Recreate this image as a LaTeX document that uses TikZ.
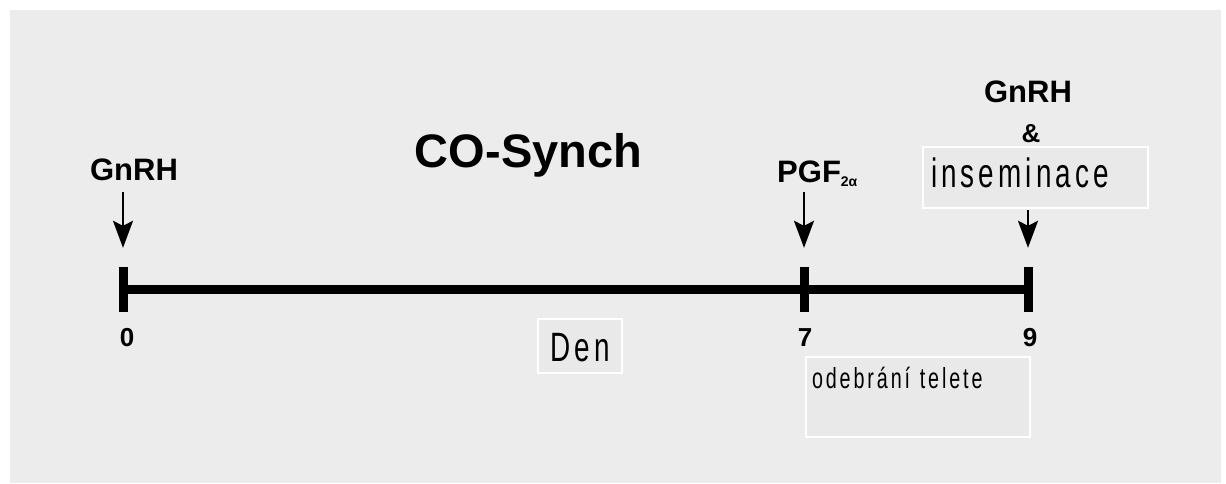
\documentclass[tikz,border=0pt]{standalone}
\usepackage{fontspec}
\setmainfont{Liberation Sans}
\newfontfamily\narrowfont[FakeStretch=0.68,LetterSpace=10]{Liberation Sans}
\usepackage{tikz}
\usetikzlibrary{arrows.meta,positioning}
\definecolor{panel}{HTML}{ECECEC}
\definecolor{boxfill}{HTML}{E9E9E9}

\begin{document}
\begin{tikzpicture}[x=1pt, y=-1pt,
    drugtext/.style={inner sep=0pt, anchor=base, font=\bfseries\fontsize{31}{31}\selectfont},
    daytext/.style={inner sep=0pt, anchor=base, font=\bfseries\fontsize{26}{26}\selectfont},
    daytick/.style={fill=black, inner sep=0pt, minimum width=9pt, minimum height=45pt},
    notebox/.style={draw=white, line width=2pt, fill=boxfill, inner ysep=3pt, align=left, anchor=north west},
    dose/.style={-{Stealth[length=27pt,width=20pt,inset=5pt]}, line width=2pt}]
    \useasboundingbox (0,0) rectangle (1226,483);
    \fill[panel] (10,10) rectangle (1221,483);

    % time axis
    \node[daytick] (t0) at (123,289.5) {};
    \node[daytick] (t7) at (804,289.5) {};
    \node[daytick] (t9) at (1028,289.5) {};
    \draw[line width=9pt] (t0.center) -- (t9.center);
    \node[daytext] (n0) at (127,346) {0};
    \node[daytext] (n7) at (805,346) {7};
    \node[daytext] (n9) at (1030,346) {9};

    % labels
    \node[drugtext, font=\bfseries\fontsize{47}{47}\selectfont] (title) at (528.5,167) {CO-Synch};
    \node[drugtext] (gnrh1) at (134,180) {GnRH};
    \node[drugtext, anchor=base west] (pgf) at (777,182) {PGF\raisebox{-4pt}{\fontsize{14}{14}\selectfont 2α}};
    \node[drugtext] (gnrh2) at (1028,102) {GnRH};
    \node[drugtext, font=\bfseries\fontsize{26}{26}\selectfont] (amp) at (1031,142) {\&};

    % boxes
    \node[notebox, text width=209pt, inner xsep=8pt, text height=37pt, text depth=18pt,
          font=\narrowfont\fontsize{41}{41}\selectfont] (insem) at (922,146) {inseminace};
    \node[notebox, minimum width=84pt, inner xsep=0pt, text height=39pt, text depth=9pt,
          font=\narrowfont\fontsize{41}{41}\selectfont] (den) at (537,318) {Den};
    \node[notebox, text width=212pt, inner xsep=6pt, text height=28pt, text depth=46pt,
          font=\narrowfont\fontsize{29}{29}\selectfont] (calf) at (805,356) {odebrání telete};

    % arrows
    \draw[dose] ([yshift=-12pt]gnrh1.base -| t0) -- ([yshift=19pt]t0.north);
    \draw[dose] ([yshift=-10pt]pgf.base -| t7) -- ([yshift=19pt]t7.north);
    \draw[dose] ([yshift=-1pt]insem.south -| t9) -- ([yshift=19pt]t9.north);
\end{tikzpicture}
\end{document}
